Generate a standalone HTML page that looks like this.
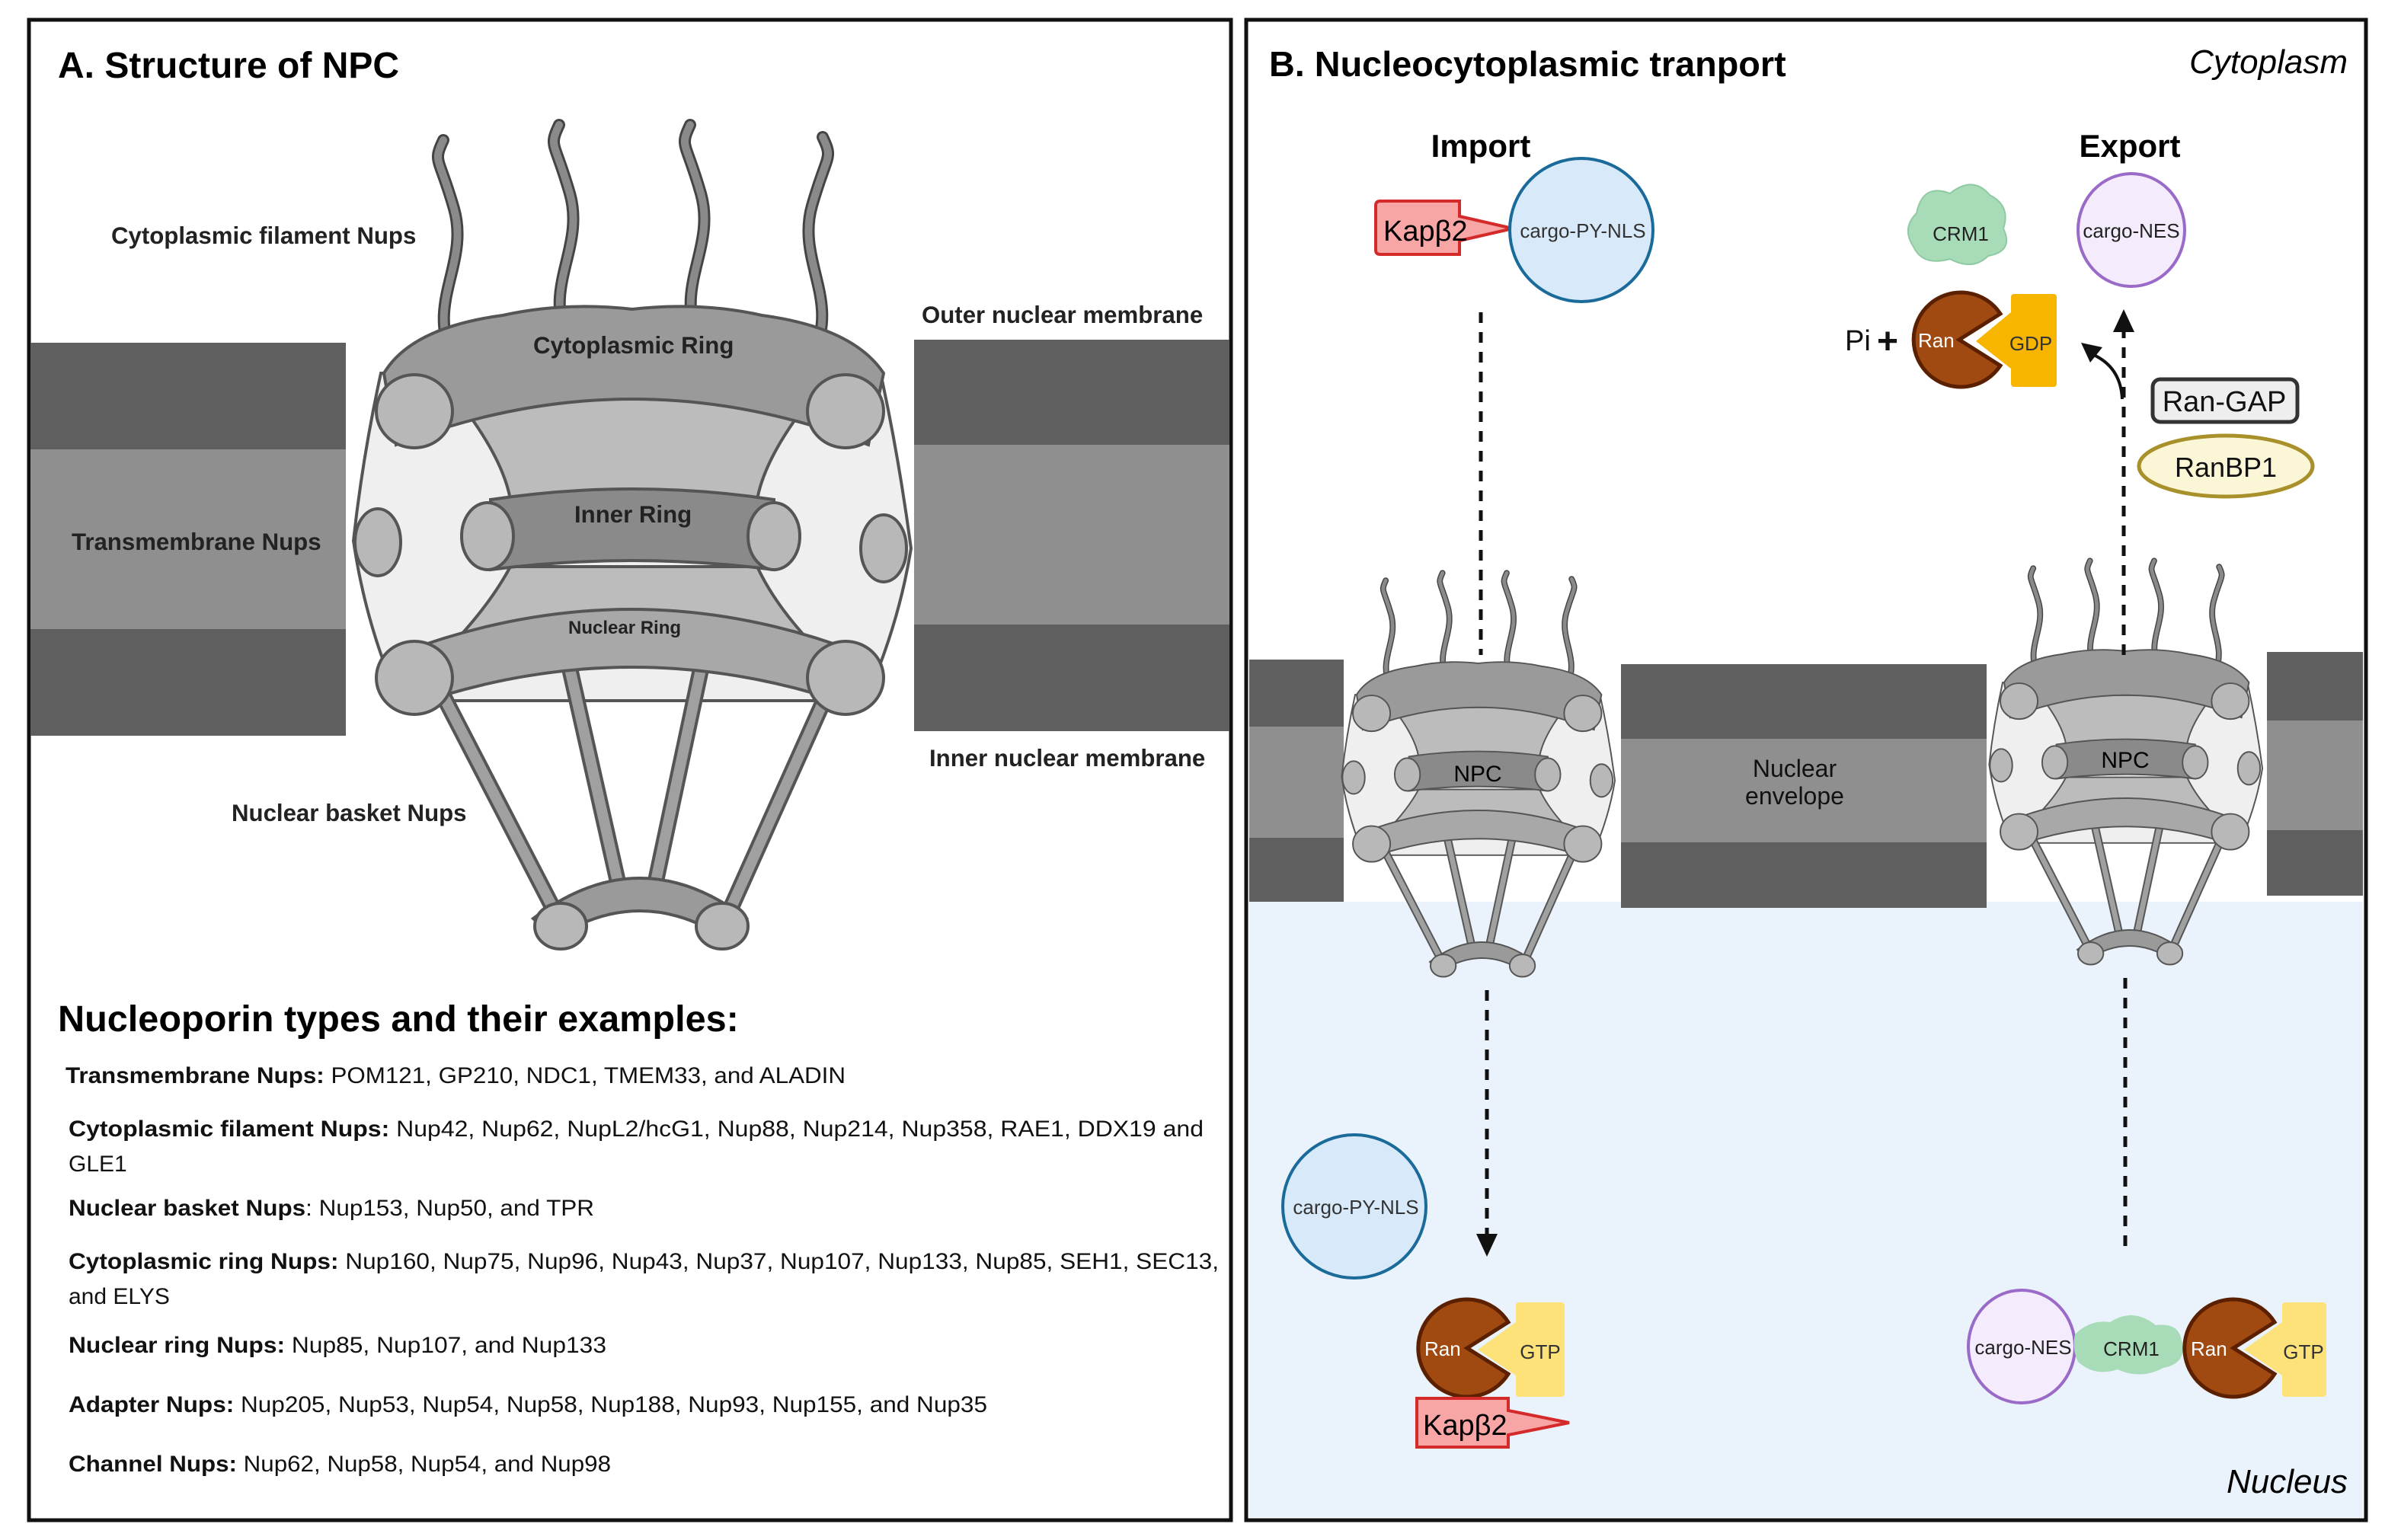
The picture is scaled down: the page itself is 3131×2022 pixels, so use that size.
<!DOCTYPE html>
<html><head><meta charset="utf-8"><style>
html,body{margin:0;padding:0;background:#fff;}
svg{display:block;font-family:"Liberation Sans",sans-serif;}
</style></head><body>
<svg width="3131" height="2022" viewBox="0 0 1565.5 1011" xmlns="http://www.w3.org/2000/svg">
<defs>
<g id="fil">
<path d="M0 0 C-15 -35 12 -60 2 -95 S-12 -125 -5 -140" fill="none" stroke="#444" stroke-width="8" stroke-linecap="round"/>
<path d="M0 0 C-15 -35 12 -60 2 -95 S-12 -125 -5 -140" fill="none" stroke="#8a8a8a" stroke-width="5" stroke-linecap="round"/>
</g>
<g id="npc" stroke="#555" stroke-width="2">
<use href="#fil" x="296" y="232"/>
<use href="#fil" x="372" y="222"/>
<use href="#fil" x="458" y="222"/>
<use href="#fil" x="535" y="230" transform="translate(1070,0) scale(-1,1)"/>
<path d="M250 245 Q238 300 232 355 Q240 410 262 460 L568 460 Q590 410 598 360 Q590 300 578 245 Z" fill="#efefef"/>
<g stroke-width="2">
<path d="M290 455 L365 600 M372 430 L408 590 M462 430 L428 590 M543 455 L478 600" stroke="#555" stroke-width="11" fill="none"/>
<path d="M290 455 L365 600 M372 430 L408 590 M462 430 L428 590 M543 455 L478 600" stroke="#a0a0a0" stroke-width="7" fill="none"/>
</g>
<path d="M300 262 Q330 300 335 328 L497 328 Q502 300 532 262 Z" fill="#bcbcbc"/>
<path d="M335 372 L497 372 Q510 400 540 430 L290 430 Q320 400 335 372 Z" fill="#bcbcbc"/>
<path d="M252 245 Q270 215 330 207 Q370 198 415 203 Q460 198 500 207 Q560 215 580 245 L570 292 Q415 232 260 292 Z" fill="#9a9a9a"/>
<path d="M322 328 Q415 314 508 328 L508 374 Q415 362 322 374 Z" fill="#8a8a8a"/>
<path d="M265 428 Q415 372 562 428 L562 464 Q415 412 268 464 Z" fill="#a8a8a8"/>
<ellipse cx="272" cy="270" rx="25" ry="24" fill="#b8b8b8"/>
<ellipse cx="555" cy="270" rx="25" ry="24" fill="#b8b8b8"/>
<ellipse cx="320" cy="352" rx="17" ry="22" fill="#b8b8b8"/>
<ellipse cx="508" cy="352" rx="17" ry="22" fill="#b8b8b8"/>
<ellipse cx="248" cy="356" rx="15" ry="22" fill="#b8b8b8"/>
<ellipse cx="580" cy="360" rx="15" ry="22" fill="#b8b8b8"/>
<ellipse cx="272" cy="445" rx="25" ry="24" fill="#b8b8b8"/>
<ellipse cx="555" cy="445" rx="25" ry="24" fill="#b8b8b8"/>
<path d="M350 603 Q420 550 490 603 L476 616 Q420 580 364 616 Z" fill="#9a9a9a"/>
<ellipse cx="368" cy="608" rx="17" ry="15" fill="#b8b8b8"/>
<ellipse cx="474" cy="608" rx="17" ry="15" fill="#b8b8b8"/>
</g>
</defs>

<!-- Panel A -->
<rect x="19" y="13" width="789" height="985" fill="#fff" stroke="#111" stroke-width="2.5"/>
<text x="38" y="51" font-size="24" font-weight="bold">A. Structure of NPC</text>
<rect x="20" y="225" width="207" height="70" fill="#5f5f5f"/>
<rect x="20" y="295" width="207" height="118" fill="#8f8f8f"/>
<rect x="20" y="413" width="207" height="70" fill="#5f5f5f"/>
<rect x="600" y="223" width="207" height="69" fill="#5f5f5f"/>
<rect x="600" y="292" width="207" height="118" fill="#8f8f8f"/>
<rect x="600" y="410" width="207" height="70" fill="#5f5f5f"/>
<use href="#npc"/>
<g font-weight="bold" font-size="15.6" fill="#222">
<text x="73" y="160">Cytoplasmic filament Nups</text>
<text x="605" y="212">Outer nuclear membrane</text>
<text x="47" y="361">Transmembrane Nups</text>
<text x="610" y="503">Inner nuclear membrane</text>
<text x="152" y="539">Nuclear basket Nups</text>
<text x="350" y="232" font-size="15.6">Cytoplasmic Ring</text>
<text x="377" y="343" font-size="15.6">Inner Ring</text>
<text x="373" y="416" font-size="12">Nuclear Ring</text>
</g>
<text x="38" y="677" font-size="24.3" font-weight="bold">Nucleoporin types and their examples:</text>
<g font-size="15" fill="#111">
<text x="43" y="711" textLength="512" lengthAdjust="spacingAndGlyphs"><tspan font-weight="bold">Transmembrane Nups:</tspan> POM121, GP210, NDC1, TMEM33, and ALADIN</text>
<text x="45" y="746" textLength="745" lengthAdjust="spacingAndGlyphs"><tspan font-weight="bold">Cytoplasmic filament Nups:</tspan> Nup42, Nup62, NupL2/hcG1,  Nup88, Nup214, Nup358, RAE1, DDX19 and</text>
<text x="45" y="769">GLE1</text>
<text x="45" y="798" textLength="345" lengthAdjust="spacingAndGlyphs"><tspan font-weight="bold">Nuclear basket Nups</tspan>: Nup153,  Nup50, and TPR</text>
<text x="45" y="833" textLength="755" lengthAdjust="spacingAndGlyphs"><tspan font-weight="bold">Cytoplasmic ring Nups:</tspan> Nup160, Nup75,  Nup96, Nup43, Nup37, Nup107, Nup133, Nup85,  SEH1, SEC13,</text>
<text x="45" y="856">and ELYS</text>
<text x="45" y="888" textLength="353" lengthAdjust="spacingAndGlyphs"><tspan font-weight="bold">Nuclear ring Nups:</tspan> Nup85,  Nup107, and Nup133</text>
<text x="45" y="927" textLength="603" lengthAdjust="spacingAndGlyphs"><tspan font-weight="bold">Adapter Nups:</tspan> Nup205, Nup53, Nup54, Nup58, Nup188, Nup93, Nup155, and Nup35</text>
<text x="45" y="966" textLength="356" lengthAdjust="spacingAndGlyphs"><tspan font-weight="bold">Channel Nups:</tspan> Nup62, Nup58, Nup54, and Nup98</text>
</g>

<!-- Panel B -->
<rect x="818" y="13" width="735" height="985" fill="#fff" stroke="#111" stroke-width="2.5"/>
<rect x="820" y="592" width="731" height="404" fill="#eaf2fb"/>
<text x="833" y="50" font-size="23.4" font-weight="bold">B. Nucleocytoplasmic tranport</text>
<text x="1541" y="48" font-size="22" font-style="italic" text-anchor="end">Cytoplasm</text>
<text x="1541" y="980" font-size="22" font-style="italic" text-anchor="end">Nucleus</text>
<rect x="820" y="433" width="62" height="44" fill="#5f5f5f"/>
<rect x="820" y="477" width="62" height="73" fill="#8f8f8f"/>
<rect x="820" y="550" width="62" height="42" fill="#5f5f5f"/>
<rect x="1064" y="436" width="240" height="49" fill="#5f5f5f"/>
<rect x="1064" y="485" width="240" height="68" fill="#8f8f8f"/>
<rect x="1064" y="553" width="240" height="43" fill="#5f5f5f"/>
<rect x="1488" y="428" width="63" height="45" fill="#5f5f5f"/>
<rect x="1488" y="473" width="63" height="72" fill="#8f8f8f"/>
<rect x="1488" y="545" width="63" height="43" fill="#5f5f5f"/>
<text x="1178" y="510" font-size="16" text-anchor="middle" fill="#111">Nuclear</text>
<text x="1178" y="528" font-size="16" text-anchor="middle" fill="#111">envelope</text>
<use href="#npc" transform="translate(767,336) scale(0.49)"/>
<use href="#npc" transform="translate(1192,328) scale(0.49)"/>
<text x="970" y="513" font-size="15" text-anchor="middle">NPC</text>
<text x="1395" y="504" font-size="15" text-anchor="middle">NPC</text>

<g stroke="#111" stroke-width="2.5" stroke-dasharray="7,6" fill="none">
<line x1="972" y1="205" x2="972" y2="430"/>
<line x1="976" y1="650" x2="976" y2="812"/>
<line x1="1395" y1="818" x2="1395" y2="640"/>
<line x1="1394" y1="430" x2="1394" y2="215"/>
</g>
<path d="M969 810 L983 810 L976 825 Z" fill="#111"/>
<path d="M1387 218 L1401 218 L1394 203 Z" fill="#111"/>
<path d="M1393 262 Q1392 240 1372 232" fill="none" stroke="#111" stroke-width="2"/>
<path d="M1366 225 L1380 228 L1372 238 Z" fill="#111"/>

<text x="972" y="103" font-size="21" font-weight="bold" text-anchor="middle">Import</text>
<text x="1398" y="103" font-size="21" font-weight="bold" text-anchor="middle">Export</text>

<path d="M903 135 Q903 132 906 132 L958 132 L958 142 L993 150 L958 158 L958 167 L906 167 Q903 167 903 164 Z" fill="#f7a5a5" stroke="#d42a2a" stroke-width="2"/>
<text x="908" y="158" font-size="19">Kapβ2</text>
<circle cx="1038" cy="151" r="47" fill="#d8eaf9" stroke="#1a6a9a" stroke-width="2"/>
<text x="1039" y="156" font-size="13" text-anchor="middle" fill="#333">cargo-PY-NLS</text>

<path d="M1258 140 Q1262 120 1280 127 Q1295 115 1306 128 Q1320 135 1315 150 Q1322 165 1305 168 Q1295 178 1280 170 Q1262 175 1256 162 Q1248 150 1258 140 Z" fill="#a8dcb8" stroke="#8fcaa2" stroke-width="1"/>
<text x="1287" y="158" font-size="13" text-anchor="middle" fill="#222">CRM1</text>
<ellipse cx="1399" cy="151" rx="35" ry="37" fill="#f4ecfc" stroke="#9a6ac8" stroke-width="2"/>
<text x="1399" y="156" font-size="13" text-anchor="middle" fill="#222">cargo-NES</text>
<text x="1211" y="230" font-size="19" fill="#111">Pi</text>
<text x="1232" y="232" font-size="24" font-weight="bold" fill="#111">+</text>
<rect x="1320" y="193" width="30" height="61" rx="2" fill="#f7b500"/>
<path d="M1320 205 L1297 224 L1320 242 Z" fill="#f7b500"/>
<path d="M1286 223 L1313 206 A31 31 0 1 0 1313 240 Z" fill="#a04a12" stroke="#5a2000" stroke-width="2.5"/>
<text x="1259" y="228" font-size="13" fill="#fff">Ran</text>
<text x="1333" y="230" font-size="13" text-anchor="middle" fill="#333">GDP</text>
<rect x="1413" y="249" width="95" height="28" rx="5" fill="#eee" stroke="#333" stroke-width="2.5"/>
<text x="1460" y="270" font-size="19" text-anchor="middle" fill="#111">Ran-GAP</text>
<ellipse cx="1461" cy="306" rx="57" ry="20" fill="#fbf6d6" stroke="#a8902a" stroke-width="2.5"/>
<text x="1461" y="313" font-size="18" text-anchor="middle" fill="#111">RanBP1</text>

<circle cx="889" cy="792" r="47" fill="#d8eaf9" stroke="#1a6a9a" stroke-width="2"/>
<text x="890" y="797" font-size="13" text-anchor="middle" fill="#333">cargo-PY-NLS</text>
<rect x="995" y="855" width="32" height="62" rx="2" fill="#fde27a"/>
<path d="M995 868 L970 886 L995 903 Z" fill="#fde27a"/>
<path d="M963 885 L990 868 A32 32 0 1 0 990 902 Z" fill="#a04a12" stroke="#5a2000" stroke-width="2.5"/>
<text x="935" y="890" font-size="13" fill="#fff">Ran</text>
<text x="1011" y="892" font-size="13" text-anchor="middle" fill="#333">GTP</text>
<path d="M930 918 L990 918 L990 926 L1030 934 L990 942 L990 950 L930 950 Z" fill="#f7a5a5" stroke="#d42a2a" stroke-width="2"/>
<text x="934" y="942" font-size="19">Kapβ2</text>

<ellipse cx="1327" cy="884" rx="35" ry="37" fill="#f4ecfc" stroke="#9a6ac8" stroke-width="2"/>
<text x="1328" y="889" font-size="13" text-anchor="middle" fill="#222">cargo-NES</text>
<path d="M1362 876 Q1372 866 1385 868 Q1400 858 1415 870 Q1430 868 1432 880 Q1436 895 1420 898 Q1405 906 1390 899 Q1375 904 1364 894 Q1360 886 1362 876 Z" fill="#a8dcb8"/>
<text x="1399" y="890" font-size="13" text-anchor="middle" fill="#222">CRM1</text>
<rect x="1498" y="855" width="29" height="62" rx="2" fill="#fde27a"/>
<path d="M1498 868 L1473 886 L1498 903 Z" fill="#fde27a"/>
<path d="M1466 885 L1493 868 A32 32 0 1 0 1493 902 Z" fill="#a04a12" stroke="#5a2000" stroke-width="2.5"/>
<text x="1438" y="890" font-size="13" fill="#fff">Ran</text>
<text x="1512" y="892" font-size="13" text-anchor="middle" fill="#333">GTP</text>
</svg>
</body></html>
